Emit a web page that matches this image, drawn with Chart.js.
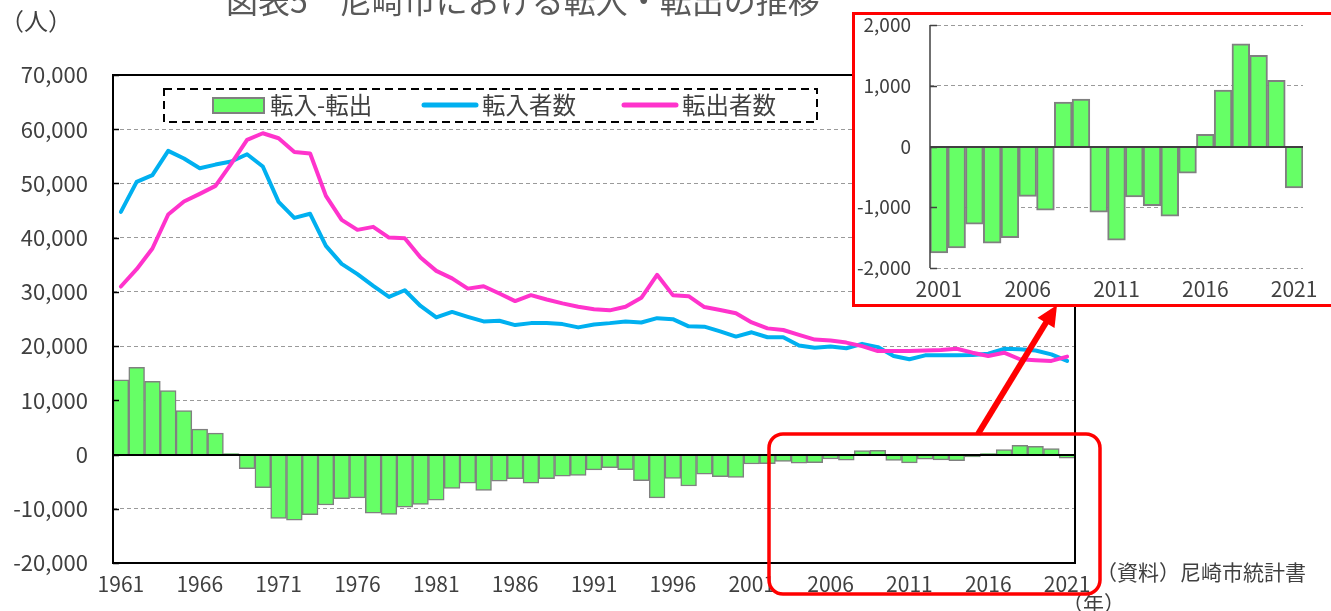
<!DOCTYPE html>
<html lang="ja">
<head>
<meta charset="utf-8">
<script src="https://cdn.jsdelivr.net/npm/chart.js@4.4.1/dist/chart.umd.min.js"></script>
<style>
  html, body { margin:0; padding:0; background:#fff; }
  body { width:1331px; height:611px; position:relative; overflow:hidden; font-family:"Noto Sans CJK JP","Noto Sans",sans-serif; color:#404040; }
  #main { position:absolute; left:0; top:0; }
  .txt { position:absolute; white-space:nowrap; line-height:1; }
  #title { left:0; width:1046px; text-align:center; top:-17px; font-size:32px; color:#595959; }
  #unitY { left:0; top:8px; font-size:24px; }
  #source { left:1096px; top:561px; font-size:21px; }
  #unitX { left:1062px; top:592px; font-size:21px; }
  #overlay { position:absolute; left:0; top:0; }
  .lg { position:absolute; font-size:23.5px; top:93px; }
  #inset { position:absolute; left:852px; top:12px; width:485px; height:295px; border:3px solid #ff0000; box-sizing:border-box; background:#fff; }
  #insetc { position:absolute; left:0; top:0; }
</style>
</head>
<body>
<canvas id="main" width="1331" height="611"></canvas>
<div id="title" class="txt">図表5　尼崎市における転入・転出の推移</div>
<div id="unitY" class="txt">（人）</div>
<div id="source" class="txt">（資料）尼崎市統計書</div>
<div id="unitX" class="txt">（年）</div>
<svg id="overlay" width="1331" height="611">
  <rect x="164" y="89" width="653" height="33" fill="none" stroke="#000" stroke-width="2" stroke-dasharray="8,5"/>
  <rect x="213" y="98" width="51" height="15" fill="#66FF66" stroke="#808080" stroke-width="2"/>
  <line x1="424" y1="105" x2="476" y2="105" stroke="#00B0F0" stroke-width="5" stroke-linecap="round"/>
  <line x1="624" y1="105" x2="676" y2="105" stroke="#FF33CC" stroke-width="5" stroke-linecap="round"/>
  <rect x="769" y="434" width="331" height="160" rx="14" ry="14" fill="none" stroke="#ff0000" stroke-width="3.5"/>
  <line x1="978" y1="434" x2="1047" y2="321" stroke="#ff0000" stroke-width="6"/>
  <polygon points="1057,305 1054.5,328 1037.5,317.7" fill="#ff0000"/>
</svg>
<div class="txt lg" style="left:270px">転入-転出</div>
<div class="txt lg" style="left:482px">転入者数</div>
<div class="txt lg" style="left:682px">転出者数</div>
<div id="inset"><canvas id="insetc" width="479" height="289"></canvas></div>
<script>
// ---- data ----
const years = [1961,1962,1963,1964,1965,1966,1967,1968,1969,1970,
  1971,1972,1973,1974,1975,1976,1977,1978,1979,1980,
  1981,1982,1983,1984,1985,1986,1987,1988,1989,1990,
  1991,1992,1993,1994,1995,1996,1997,1998,1999,2000,
  2001,2002,2003,2004,2005,2006,2007,2008,2009,2010,
  2011,2012,2013,2014,2015,2016,2017,2018,2019,2020,2021];

// 転入-転出 (net migration)
const netMigration = [13800,16100,13500,11800,8100,4700,3950,200,-2600,-6100,
  -11800,-12100,-11100,-9300,-8150,-8000,-10800,-11050,-9700,-9200,
  -8400,-6230,-5300,-6600,-4900,-4450,-5300,-4450,-4000,-3830,
  -2840,-2400,-2780,-4800,-8000,-4400,-5800,-3600,-4070,-4200,
  -1750,-1670,-1280,-1590,-1500,-820,-1050,730,780,-1080,
  -1540,-830,-975,-1145,-440,200,930,1690,1500,1090,-680];

// 転入者数 (in-migrants)
const inMigrants = [44760,50290,51520,56000,54590,52810,53480,54040,55390,53120,
  46600,43650,44400,38490,35170,33270,31110,29080,30300,27400,
  25300,26300,25400,24550,24670,23880,24240,24240,24060,23450,
  24000,24240,24550,24360,25150,24970,23640,23580,22730,21760,
  22550,21640,21640,20120,19700,19940,19600,20420,19820,18180,
  17580,18300,18300,18300,18360,18600,19500,19400,19200,18480,17270];

// 転出者数 (out-migrants)
const outMigrants = [30990,34190,38000,44270,46660,48080,49550,53670,58030,59260,
  58340,55820,55510,47700,43280,41440,41990,40020,39900,36330,
  33880,32500,30600,31030,29700,28300,29400,28600,27880,27270,
  26800,26600,27270,28900,33150,29400,29200,27200,26670,26060,
  24360,23270,22970,22060,21210,21030,20650,20000,19090,19090,
  19090,19210,19270,19520,18790,18180,18790,17580,17400,17270,18060];

const mainYTicks = [-20000,-10000,0,10000,20000,30000,40000,50000,60000,70000];
const insetStartYear = 2001;
const insetYTicks = [-2000,-1000,0,1000,2000];

const seriesNames = ['転入-転出','転入者数','転出者数'];

// ---- helpers ----
const FONT = '"Noto Sans CJK JP","Noto Sans",sans-serif';
const TXT = '#404040';
const fmt = v => Number(v).toLocaleString('en-US');

function decorPlugin(opts){
  return {
    id: 'decor_' + opts.name,
    afterDatasetsDraw(chart){
      const {ctx, chartArea:a, scales:{y}} = chart;
      const y0 = Math.round(y.getPixelForValue(0));
      ctx.save();
      ctx.strokeStyle = opts.zeroColor;
      ctx.lineWidth = opts.zeroWidth;
      ctx.beginPath(); ctx.moveTo(a.left, y0); ctx.lineTo(a.right, y0); ctx.stroke();
      ctx.restore();
    },
    afterDraw(chart){
      const {ctx, chartArea:a, scales:{y}} = chart;
      ctx.save();
      if (opts.box){
        ctx.strokeStyle = '#000'; ctx.lineWidth = 2;
        ctx.strokeRect(a.left, a.top, a.right - a.left, a.bottom - a.top);
      } else {
        ctx.strokeStyle = opts.axisColor; ctx.lineWidth = opts.axisWidth;
        ctx.beginPath(); ctx.moveTo(a.left, a.top); ctx.lineTo(a.left, a.bottom); ctx.stroke();
      }
      ctx.strokeStyle = opts.axisColor; ctx.lineWidth = 1.5;
      y.ticks.forEach(t => {
        const py = Math.round(y.getPixelForValue(t.value)) + 0.5;
        ctx.beginPath(); ctx.moveTo(a.left, py); ctx.lineTo(a.left + opts.tickLen, py); ctx.stroke();
      });
      ctx.restore();
    }
  };
}

// ---- main chart ----
new Chart(document.getElementById('main'), {
  type: 'bar',
  data: {
    labels: years,
    datasets: [
      { type:'bar', label: seriesNames[0], data: netMigration, backgroundColor:'#66FF66',
        borderColor:'#808080', borderWidth:1.5, barPercentage:1, categoryPercentage:1, order:3 },
      { type:'line', label: seriesNames[1], data: inMigrants, borderColor:'#00B0F0', borderWidth:4,
        pointRadius:0, tension:0, fill:false, order:2, borderJoinStyle:'round', borderCapStyle:'round' },
      { type:'line', label: seriesNames[2], data: outMigrants, borderColor:'#FF33CC', borderWidth:4,
        pointRadius:0, tension:0, fill:false, order:1, borderJoinStyle:'round', borderCapStyle:'round' }
    ]
  },
  options: {
    responsive:false, animation:false, devicePixelRatio:1,
    layout:{ padding:{ left:0, top:75, right:256, bottom:0 } },
    plugins:{ legend:{display:false}, title:{display:false}, tooltip:{enabled:false} },
    scales:{
      x:{
        grid:{ display:false, drawTicks:false },
        border:{ display:false },
        ticks:{ autoSkip:false, maxRotation:0, minRotation:0, padding:8, color:TXT,
          font:{ family:FONT, size:21 },
          callback:(v, i) => ((years[i] - years[0]) % 5 === 0 ? String(years[i]) : '') },
        afterFit: s => { s.height = 48; }
      },
      y:{
        min: mainYTicks[0], max: mainYTicks[mainYTicks.length-1],
        afterBuildTicks: s => { s.ticks = mainYTicks.map(v => ({value:v})); },
        grid:{ drawTicks:false, lineWidth:1,
          color: c => ([mainYTicks[0], 0, mainYTicks[mainYTicks.length-1]].includes(c.tick.value) ? 'rgba(0,0,0,0)' : '#9a9a9a') },
        border:{ display:false, dash:[4,3] },
        ticks:{ padding:25, color:TXT, font:{ family:FONT, size:22 }, callback: v => fmt(v) },
        afterFit: s => { s.width = 113; s.paddingTop = 0; s.paddingBottom = 0; }
      }
    }
  },
  plugins:[ decorPlugin({name:'main', box:true, zeroColor:'#000', zeroWidth:2, axisColor:'#000', axisWidth:2, tickLen:6}) ]
});

// ---- inset chart (2001-2021) ----
const i0 = years.indexOf(insetStartYear);
const insetYears = years.slice(i0);
const insetNet = netMigration.slice(i0);

new Chart(document.getElementById('insetc'), {
  type:'bar',
  data:{ labels: insetYears,
    datasets:[{ label: seriesNames[0], data: insetNet, backgroundColor:'#66FF66', borderColor:'#808080',
      borderWidth:2, barPercentage:1, categoryPercentage:1 }] },
  options:{
    responsive:false, animation:false, devicePixelRatio:1,
    layout:{ padding:{ left:0, top:10, right:31, bottom:0 } },
    plugins:{ legend:{display:false}, tooltip:{enabled:false} },
    scales:{
      x:{
        grid:{ display:false, drawTicks:false }, border:{ display:false },
        ticks:{ autoSkip:false, maxRotation:0, padding:8, color:TXT, font:{ family:FONT, size:21 },
          callback:(v, i) => ((insetYears[i] - insetYears[0]) % 5 === 0 ? String(insetYears[i]) : '') },
        afterFit: s => { s.height = 36; s.paddingLeft = 0; s.paddingRight = 0; }
      },
      y:{
        min: insetYTicks[0], max: insetYTicks[insetYTicks.length-1],
        afterBuildTicks: s => { s.ticks = insetYTicks.map(v => ({value:v})); },
        grid:{ drawTicks:false, lineWidth:1, color: c => (c.tick.value === 0 ? 'rgba(0,0,0,0)' : '#9a9a9a') },
        border:{ display:false, dash:[4,3] },
        ticks:{ padding:19, color:TXT, font:{ family:FONT, size:19 }, callback: v => fmt(v) },
        afterFit: s => { s.width = 75; s.paddingTop = 0; s.paddingBottom = 0; }
      }
    }
  },
  plugins:[ decorPlugin({name:'inset', box:false, zeroColor:'#404040', zeroWidth:2, axisColor:'#404040', axisWidth:1.5, tickLen:7}) ]
});
</script>
</body>
</html>
